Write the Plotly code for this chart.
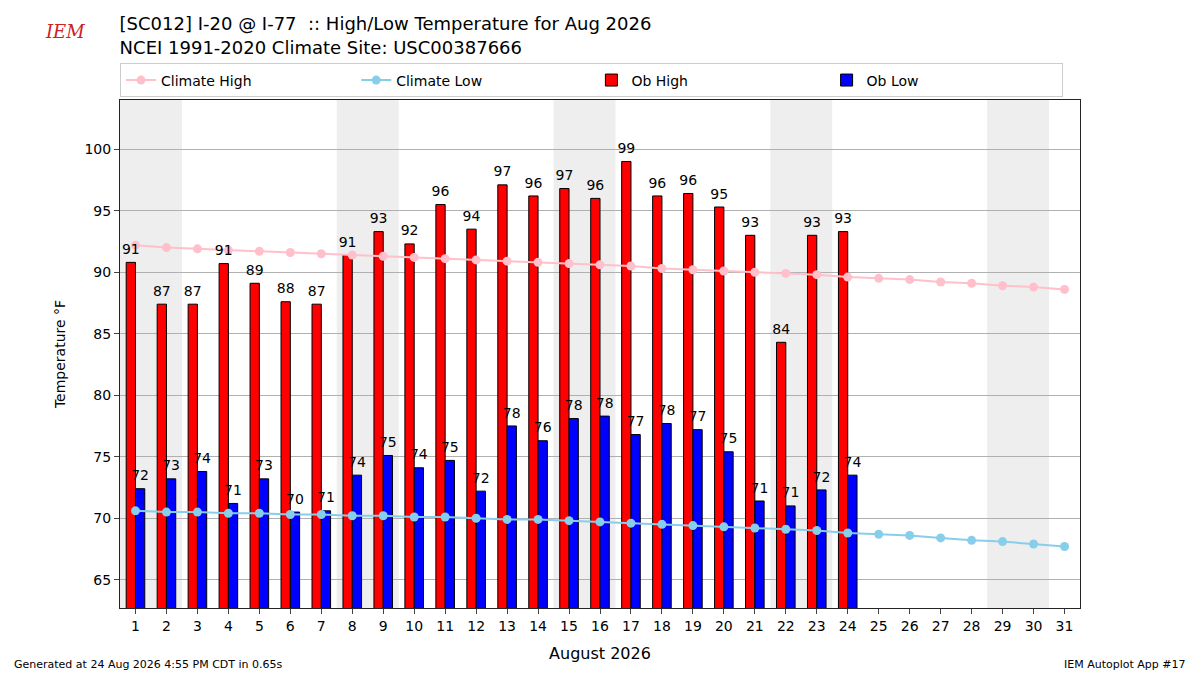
import plotly.graph_objects as go

days = list(range(1, 32))
ob_high = [90.8, 87.4, 87.4, 90.7, 89.1, 87.6, 87.4, 91.4, 93.3, 92.3, 95.5, 93.5, 97.1, 96.2,
           96.8, 96.0, 99.0, 96.2, 96.4, 95.3, 93.0, 84.3, 93.0, 93.3]
ob_low = [72.4, 73.2, 73.8, 71.2, 73.2, 70.5, 70.6, 73.5, 75.1, 74.1, 74.7, 72.2, 77.5, 76.3,
          78.1, 78.3, 76.8, 77.7, 77.2, 75.4, 71.4, 71.0, 72.3, 73.5]
clim_high = [92.2, 92.0, 91.9, 91.8, 91.7, 91.6, 91.5, 91.4, 91.3, 91.2, 91.1, 91.0, 90.9, 90.8,
             90.7, 90.6, 90.5, 90.3, 90.2, 90.1, 90.0, 89.9, 89.8, 89.6, 89.5, 89.4, 89.2,
             89.1, 88.9, 88.8, 88.6]
clim_low = [70.6, 70.5, 70.5, 70.4, 70.4, 70.3, 70.3, 70.2, 70.2, 70.1, 70.1, 70.0, 69.9, 69.9,
            69.8, 69.7, 69.6, 69.5, 69.4, 69.3, 69.2, 69.1, 69.0, 68.8, 68.7, 68.6, 68.4,
            68.2, 68.1, 67.9, 67.7]

d = days[:len(ob_high)]
xh = [x - 0.15 for x in d]
xl = [x + 0.15 for x in d]

fig = go.Figure()
fig.add_trace(go.Bar(x=xh, y=ob_high, width=0.3, name="Ob High", legendrank=3,
                     marker=dict(color="red", line=dict(color="black", width=1))))
fig.add_trace(go.Bar(x=xl, y=ob_low, width=0.3, name="Ob Low", legendrank=4,
                     marker=dict(color="blue", line=dict(color="black", width=1))))
fig.add_trace(go.Scatter(x=days, y=clim_high, mode="lines+markers", name="Climate High", legendrank=1,
                         line=dict(color="pink", width=2), marker=dict(size=9, color="pink")))
fig.add_trace(go.Scatter(x=days, y=clim_low, mode="lines+markers", name="Climate Low", legendrank=2,
                         line=dict(color="skyblue", width=2), marker=dict(size=9, color="skyblue")))
# value labels
fig.add_trace(go.Scatter(x=xh, y=[v + 0.4 for v in ob_high], mode="text", text=[f"{v:.0f}" for v in ob_high],
                         textposition="top center", textfont=dict(size=14, color="black"),
                         showlegend=False, cliponaxis=False))
fig.add_trace(go.Scatter(x=xl, y=[v + 0.4 for v in ob_low], mode="text", text=[f"{v:.0f}" for v in ob_low],
                         textposition="top center", textfont=dict(size=14, color="black"),
                         showlegend=False, cliponaxis=False))

for s in [1, 8, 15, 22, 29]:
    fig.add_vrect(x0=s - 0.5, x1=s + 1.5, fillcolor="#eeeeee", opacity=1, line_width=0, layer="below")

fig.update_layout(
    width=1200, height=675, template="simple_white", barmode="overlay",
    font=dict(family="DejaVu Sans", size=14, color="black"),
    margin=dict(l=112, r=128, t=92, b=75),
    title=dict(text="[SC012] I-20 @ I-77  :: High/Low Temperature for Aug 2026<br>NCEI 1991-2020 Climate Site: USC00387666",
               x=0.093, y=0.967, xanchor="left", yanchor="middle", font=dict(size=18)),
    legend=dict(orientation="h", x=0, y=1.005, xanchor="left", yanchor="bottom",
                entrywidthmode="fraction", entrywidth=0.245, bordercolor="#cccccc", borderwidth=1,
                font=dict(size=14), traceorder="normal"),
)
fig.update_xaxes(range=[0.5, 31.5], tickvals=days, title_text="August 2026",
                 title_font=dict(size=16), mirror=True, ticks="outside", showline=True)
fig.update_yaxes(range=[62.7, 104], dtick=5, title_text="Temperature °F", showgrid=True,
                 gridcolor="#b0b0b0", mirror=True, ticks="outside", showline=True,
                 title_font=dict(size=14))
fig.add_annotation(text="Generated at 24 Aug 2026 4:55 PM CDT in 0.65s", xref="paper", yref="paper",
                   x=-0.1125, y=-0.112, xanchor="left", yanchor="middle", showarrow=False, font=dict(size=11))
fig.add_annotation(text="IEM Autoplot App #17", xref="paper", yref="paper",
                   x=1.1125, y=-0.112, xanchor="right", yanchor="middle", showarrow=False, font=dict(size=11))
fig.add_annotation(text="<i>IEM</i>", xref="paper", yref="paper", x=-0.08, y=1.16,
                   showarrow=False, font=dict(size=18, color="#cc2222", family="DejaVu Serif"))

fig.write_html("out.html")
